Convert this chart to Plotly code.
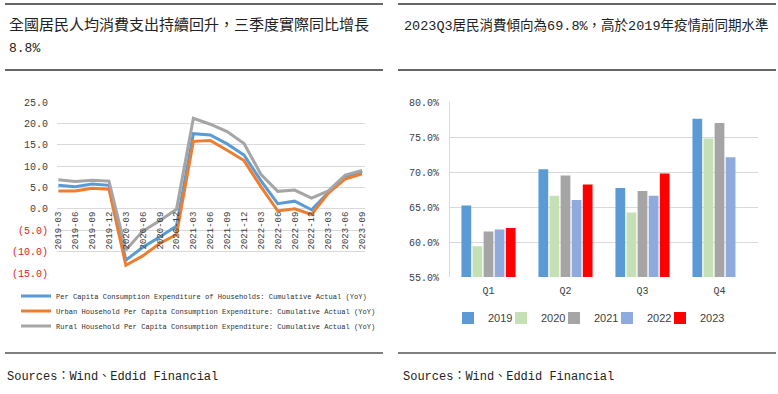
import plotly.graph_objects as go

W, H = 778, 394

# ---------------- Left chart data ----------------
quarters = ["2019-03", "2019-06", "2019-09", "2019-12",
            "2020-03", "2020-06", "2020-09", "2020-12",
            "2021-03", "2021-06", "2021-09", "2021-12",
            "2022-03", "2022-06", "2022-09", "2022-12",
            "2023-03", "2023-06", "2023-09"]
national = [5.5, 5.2, 5.8, 5.5, -12.0, -9.0, -6.6, -4.0,
            17.6, 17.3, 15.2, 12.6, 6.6, 1.2, 1.8, -0.2, 3.8, 7.5, 8.8]
urban = [4.2, 4.2, 4.8, 4.6, -13.2, -11.0, -8.1, -6.0,
         15.8, 16.0, 13.7, 11.3, 5.2, -0.5, 0.0, -1.3, 3.7, 7.0, 8.2]
rural = [6.8, 6.4, 6.7, 6.5, -9.6, -5.2, -2.8, -0.1,
         21.2, 19.8, 18.1, 15.3, 8.1, 4.1, 4.4, 2.5, 4.2, 7.9, 9.0]
line_names = [
    "Per Capita Consumption Expenditure of Households: Cumulative Actual (YoY)",
    "Urban Household Per Capita Consumption Expenditure: Cumulative Actual (YoY)",
    "Rural Household Per Capita Consumption Expenditure: Cumulative Actual (YoY)",
]
line_colors = ["#5B9BD5", "#ED7D31", "#A5A5A5"]
left_yticks = [25, 20, 15, 10, 5, 0, -5, -10, -15]
left_yticktext = ["25.0", "20.0", "15.0", "10.0", "5.0", "0.0",
                  '<span style="color:#E02020">(5.0)</span>',
                  '<span style="color:#E02020">(10.0)</span>',
                  '<span style="color:#E02020">(15.0)</span>']

# ---------------- Right chart data ----------------
qcats = ["Q1", "Q2", "Q3", "Q4"]
years = ["2019", "2020", "2021", "2022", "2023"]
propensity = {
    "2019": [65.2, 70.4, 67.7, 77.6],
    "2020": [59.4, 66.6, 64.2, 74.8],
    "2021": [61.5, 69.5, 67.3, 77.0],
    "2022": [61.8, 66.0, 66.6, 72.1],
    "2023": [62.0, 68.2, 69.8, None],
}
bar_colors = ["#5B9BD5", "#C5E0B4", "#A5A5A5", "#8FAADC", "#FF0000"]
right_yticks = [55, 60, 65, 70, 75, 80]
right_yticktext = ["55.0%", "60.0%", "65.0%", "70.0%", "75.0%", "80.0%"]

title_left_1 = "全國居民人均消費支出持續回升，三季度實際同比增長"
title_left_2 = "8.8%"
title_right = "2023Q3居民消費傾向為69.8%，高於2019年疫情前同期水準"
source_text = "Sources：Wind、Eddid Financial"

MONO = "Liberation Mono, Noto Sans CJK TC, monospace"


def px_x(x):
    return x / W


def px_y(y):
    return 1 - y / H


fig = go.Figure()

# legends: one per line item (vertical stack), one per bar year (horizontal row)
line_legend_y = [296, 311, 326]
bar_legend_x = [448, 501, 554, 607, 660]
legend_layout = {}

for i, (name, vals, col) in enumerate(zip(line_names, [national, urban, rural], line_colors)):
    lname = "legend" if i == 0 else "legend%d" % (i + 1)
    fig.add_trace(go.Scatter(
        x=list(range(len(quarters))), y=vals, mode="lines", name=name,
        line=dict(color=col, width=3), xaxis="x", yaxis="y", legend=lname,
        hoverinfo="skip"))
    legend_layout[lname] = dict(
        x=px_x(16), y=px_y(line_legend_y[i]), xanchor="left", yanchor="middle",
        bgcolor="rgba(0,0,0,0)", itemwidth=30,
        font=dict(family=MONO, size=7.1, color="#303030"))

for j, (yr, col) in enumerate(zip(years, bar_colors)):
    lname = "legend%d" % (j + 4)
    fig.add_trace(go.Bar(
        x=qcats, y=propensity[yr], name=yr, marker=dict(color=col, line=dict(width=0)),
        xaxis="x2", yaxis="y2", legend=lname))
    legend_layout[lname] = dict(
        x=px_x(bar_legend_x[j]), y=px_y(318), xanchor="left", yanchor="middle",
        bgcolor="rgba(0,0,0,0)", itemwidth=30,
        font=dict(family="Liberation Sans, Arial", size=11, color="#404040"))

# domains
ly0, ly1 = px_y(273), px_y(102)
lrange = [-15, 25]
zero_pos = ly0 + (0 - lrange[0]) / (lrange[1] - lrange[0]) * (ly1 - ly0)

fig.update_layout(
    width=W, height=H, margin=dict(l=0, r=0, t=0, b=0, autoexpand=False),
    paper_bgcolor="white", plot_bgcolor="white",
    barmode="group", bargap=0.28, bargroupgap=0.12,
    showlegend=True,
    xaxis=dict(domain=[px_x(57), px_x(365)], range=[-0.08, 18.17],
               tickmode="array", tickvals=list(range(len(quarters))), ticktext=quarters,
               tickangle=-90, anchor="free", position=zero_pos,
               showgrid=False, showline=False, zeroline=False, ticks="",
               tickfont=dict(family=MONO, size=9, color="#404040")),
    yaxis=dict(domain=[ly0, ly1], range=lrange, tickmode="array",
               tickvals=left_yticks, ticktext=left_yticktext,
               showgrid=True, gridcolor="#D9D9D9", gridwidth=1, zeroline=False,
               showline=False, ticks="", ticklabelstandoff=8,
               tickfont=dict(family=MONO, size=10, color="#404040"), anchor="x"),
    xaxis2=dict(domain=[px_x(450), px_x(758)], anchor="y2",
                showgrid=False, showline=False, zeroline=False, ticks="",
                ticklabelstandoff=6,
                tickfont=dict(family=MONO, size=10, color="#404040")),
    yaxis2=dict(domain=[px_y(277), px_y(102)], range=[55, 80], anchor="x2",
                tickmode="array", tickvals=right_yticks, ticktext=right_yticktext,
                showgrid=True, gridcolor="#D9D9D9", gridwidth=1, zeroline=False,
                showline=True, linecolor="#D9D9D9", ticks="", ticklabelstandoff=8,
                tickfont=dict(family=MONO, size=10, color="#404040")),
    **legend_layout,
)

# Frame lines
line_style = dict(color="#333333", width=1.6)
for x0, x1 in [(5, 383), (398, 776)]:
    for yy in [4, 70]:
        fig.add_shape(type="line", xref="paper", yref="paper",
                      x0=px_x(x0), x1=px_x(x1), y0=px_y(yy), y1=px_y(yy), line=line_style)
    fig.add_shape(type="line", xref="paper", yref="paper",
                  x0=px_x(x0), x1=px_x(x1), y0=px_y(353), y1=px_y(353),
                  line=dict(color="#555555", width=1.4))

ann_font = dict(family=MONO, size=15, color="#222222")
fig.add_annotation(x=px_x(7), y=px_y(25), xref="paper", yref="paper", text=title_left_1,
                   showarrow=False, xanchor="left", yanchor="middle", font=ann_font)
fig.add_annotation(x=px_x(7), y=px_y(48), xref="paper", yref="paper", text=title_left_2,
                   showarrow=False, xanchor="left", yanchor="middle",
                   font=dict(family=MONO, size=13, color="#222222"))
fig.add_annotation(x=px_x(402), y=px_y(25), xref="paper", yref="paper", text=title_right,
                   showarrow=False, xanchor="left", yanchor="middle",
                   font=dict(family=MONO, size=13.5, color="#222222"))
for xx in [5, 401]:
    fig.add_annotation(x=px_x(xx), y=px_y(377), xref="paper", yref="paper", text=source_text,
                       showarrow=False, xanchor="left", yanchor="middle",
                       font=dict(family=MONO, size=12, color="#222222"))

fig.write_html("out.html", config={"displayModeBar": False},
               post_script="document.body.style.margin='0';")
